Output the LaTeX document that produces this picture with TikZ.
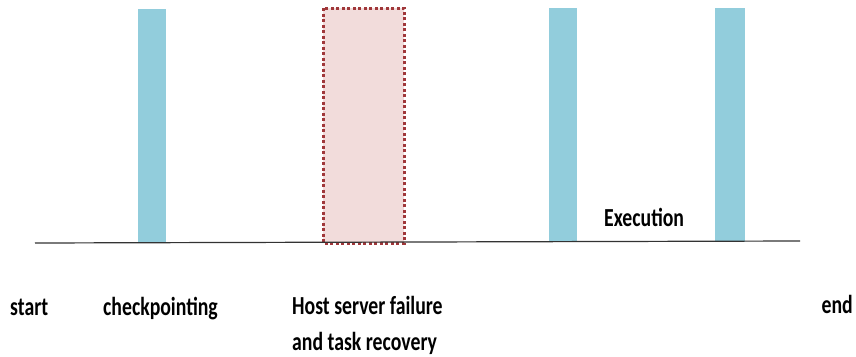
\documentclass[tikz,border=0pt]{standalone}
\usepackage{fontspec}
\setmainfont{Carlito}[FakeStretch=0.76]
\definecolor{barblue}{HTML}{92CDDC}
\definecolor{pinkfill}{HTML}{F2DCDB}
\definecolor{darkred}{HTML}{A0373A}
\tikzset{
  bar/.style={fill=barblue, draw=none},
  lbl/.style={font=\bfseries\fontsize{26}{36}\selectfont, inner sep=0pt, align=left},
}
\begin{document}
\begin{tikzpicture}[x=1pt,y=-1pt]
\useasboundingbox (0,0) rectangle (856,356);
\fill[bar] (138,9) rectangle (166,243);
\filldraw[fill=pinkfill, draw=darkred, line width=3pt, dash pattern=on 3pt off 2.5pt] (323,8) rectangle (404,243);
\fill[bar] (549,8) rectangle (577,242);
\fill[bar] (715,8) rectangle (745,242);
\coordinate (L) at (35,243);
\coordinate (R) at (800,241);
\draw[line width=1.2pt, black!80] (L) -- (R);
\node[lbl, anchor=base west] (start) at (10,315) {start};
\node[lbl, anchor=base west] (cp) at (103,315) {checkpointing};
\node[lbl, anchor=base west] (host) at (292,314) {Host server failure};
\node[lbl, anchor=base west] (host2) at (292,350) {and task recovery};
\node[lbl, anchor=base east] (end) at (853,313) {end};
\node[lbl, anchor=base west] (exec) at (604,226) {Execution};
\end{tikzpicture}
\end{document}
